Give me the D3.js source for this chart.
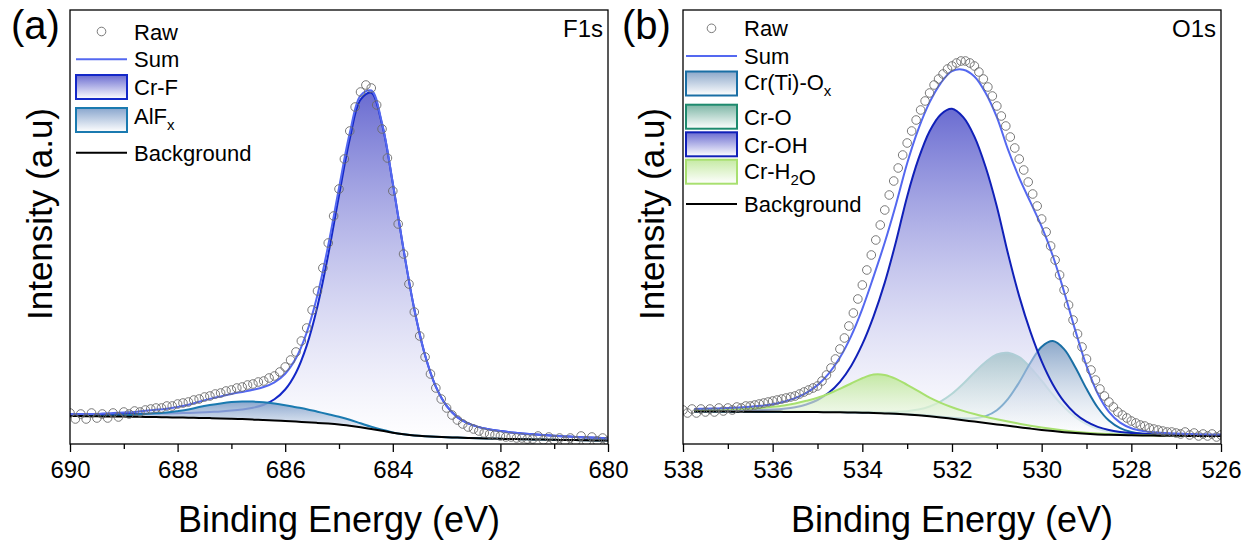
<!DOCTYPE html>
<html>
<head>
<meta charset="utf-8">
<script src="https://cdn.jsdelivr.net/npm/d3@7"></script>
<style>
  body { margin: 0; background: #fff; }
  svg text { font-family: "Liberation Sans", Arial, sans-serif; fill: #000; }
</style>
</head>
<body>
<script>
// ---------- F1s panel (a) ----------
const energyA = [690.0, 689.8, 689.6, 689.4, 689.2, 689.0, 688.8, 688.6, 688.4, 688.2,
  688.0, 687.8, 687.6, 687.4, 687.2, 687.0, 686.8, 686.6, 686.4, 686.2,
  686.0, 685.8, 685.6, 685.4, 685.2, 685.0, 684.8, 684.6, 684.4, 684.2,
  684.0, 683.8, 683.6, 683.4, 683.2, 683.0, 682.8, 682.6, 682.4, 682.2,
  682.0, 681.8, 681.6, 681.4, 681.2, 681.0, 680.8, 680.6, 680.4, 680.2, 680.0];
const bgA = [28, 27.9, 27.7, 27.6, 27.5, 27.4, 27.2, 27.1, 26.9, 26.7,
  26.5, 26.3, 26.1, 25.9, 25.6, 25.3, 24.9, 24.4, 24.0, 23.5,
  23.0, 22.4, 21.8, 21.1, 20.4, 19.5, 18.2, 16.7, 15.0, 13.2,
  11.3, 9.8, 8.6, 7.8, 7.2, 6.8, 6.4, 6.0, 5.7, 5.4,
  5.2, 5.0, 4.8, 4.6, 4.4, 4.2, 4.0, 3.9, 3.7, 3.5, 3.4];
const crF = [1.8, 2.0, 2.1, 2.3, 2.5, 2.7, 2.9, 3.2, 3.5, 3.9,
  4.3, 4.8, 5.4, 6.2, 7.0, 8.1, 9.6, 11.8, 15.2, 21.2,
  31.5, 48.9, 76.6, 116.7, 169, 228.9, 286.7, 327.7, 336.3, 306.5,
  249.4, 184.6, 126.1, 80.9, 50.1, 31.3, 20.5, 14.6, 11.2, 9.2,
  7.7, 6.6, 5.8, 5.1, 4.5, 4.0, 3.6, 3.2, 2.9, 2.7, 2.4];
const alFx = [0, 0, 0.2, 0.5, 0.9, 1.4, 2.0, 3.0, 3.8, 4.7,
  6.3, 8.2, 10.8, 13.0, 15.0, 16.6, 17.6, 18.0, 17.8, 17.0,
  15.8, 14.4, 13.0, 11.2, 9.4, 7.7, 6.0, 4.0, 2.2, 1.0,
  0.3, 0, 0, 0, 0, 0, 0, 0, 0, 0,
  0, 0, 0, 0, 0, 0, 0, 0, 0, 0, 0];

const rawEnergyA = [690.0, 689.9, 689.8, 689.7, 689.6, 689.5, 689.4, 689.3, 689.2, 689.1,
  689.0, 688.9, 688.8, 688.7, 688.6, 688.5, 688.4, 688.3, 688.2, 688.1,
  688.0, 687.9, 687.8, 687.7, 687.6, 687.5, 687.4, 687.3, 687.2, 687.1,
  687.0, 686.9, 686.8, 686.7, 686.6, 686.5, 686.4, 686.3, 686.2, 686.1,
  686.0, 685.9, 685.8, 685.7, 685.6, 685.5, 685.4, 685.3, 685.2, 685.1,
  685.0, 684.9, 684.8, 684.7, 684.6, 684.5, 684.4, 684.3, 684.2, 684.1,
  684.0, 683.9, 683.8, 683.7, 683.6, 683.5, 683.4, 683.3, 683.2, 683.1,
  683.0, 682.9, 682.8, 682.7, 682.6, 682.5, 682.4, 682.3, 682.2, 682.1,
  682.0, 681.9, 681.8, 681.7, 681.6, 681.5, 681.4, 681.3, 681.2, 681.1,
  681.0, 680.9, 680.8, 680.7, 680.6, 680.5, 680.4, 680.3, 680.2, 680.1, 680.0];
const rawA = [31, 25, 30, 25, 31, 26, 30, 26, 31, 27,
  32, 30, 33, 32, 34, 35, 36, 36, 38, 38,
  40, 41, 42, 44, 45, 47, 48, 50, 51, 53,
  54, 56, 57, 59, 60, 62, 63, 66, 68, 72,
  77, 84, 92, 103, 116, 134, 153, 176, 201, 228,
  255, 285, 313, 337, 352, 359, 356, 339, 315, 286,
  253, 220, 190, 160, 132, 108, 87, 70, 56, 45,
  36, 29, 24, 20, 17, 15, 13, 11, 10, 9,
  8, 7, 7, 6, 6, 5, 5, 8, 4, 7,
  4, 6, 3, 6, 3, 8, 3, 7, 3, 6, 3];

const ticksA = [690, 688, 686, 684, 682, 680];
const minorA = [689, 687, 685, 683, 681];

// ---------- O1s panel (b) ----------
const energyB = [537.75, 537.5, 537.25, 537.0, 536.75, 536.5, 536.25, 536.0, 535.75, 535.5,
  535.25, 535.0, 534.75, 534.5, 534.25, 534.0, 533.75, 533.5, 533.25, 533.0,
  532.75, 532.5, 532.25, 532.0, 531.75, 531.5, 531.25, 531.0, 530.75, 530.5,
  530.25, 530.0, 529.75, 529.5, 529.25, 529.0, 528.75, 528.5, 528.25, 528.0,
  527.75, 527.5, 527.25, 527.0, 526.75, 526.5, 526.25, 526.0];
const bgB = [32.4, 32.4, 32.4, 32.4, 32.3, 32.3, 32.2, 32.2, 32.1, 32.0,
  32.0, 31.9, 31.8, 31.7, 31.5, 31.3, 31.0, 30.6, 30.2, 29.6,
  28.8, 27.8, 26.6, 25.2, 23.8, 22.4, 21.0, 19.6, 18.2, 16.8,
  15.4, 14.1, 12.9, 11.8, 10.9, 10.2, 9.6, 9.2, 8.9, 8.7,
  8.5, 8.4, 8.3, 8.2, 8.1, 8.1, 8.0, 8.0];
const crTiOx = [0.08, 0.08, 0.09, 0.09, 0.1, 0.11, 0.12, 0.13, 0.14, 0.15,
  0.17, 0.18, 0.2, 0.22, 0.25, 0.28, 0.31, 0.35, 0.4, 0.46,
  0.53, 0.62, 0.77, 1.05, 1.7, 3.3, 6.9, 14.2, 26.9, 45,
  65.8, 83.1, 90, 83.1, 65.8, 45, 26.9, 14.2, 6.9, 3.3,
  1.7, 1.05, 0.77, 0.62, 0.53, 0.46, 0.4, 0.35];
const crO = [0.15, 0.16, 0.17, 0.19, 0.2, 0.22, 0.24, 0.26, 0.29, 0.32,
  0.35, 0.4, 0.45, 0.5, 0.55, 0.6, 0.9, 1.2, 1.9, 3.2,
  5.6, 9.7, 16.1, 25.1, 36.5, 49.2, 61, 70, 73, 70,
  61, 49.2, 36.5, 25.1, 16.1, 9.7, 5.6, 3.2, 1.9, 1.2,
  0.9, 0.6, 0.55, 0.5, 0.45, 0.4, 0.35, 0.32];
const crOH = [0.8, 0.87, 0.95, 1.0, 1.2, 1.4, 1.7, 2.2, 3.2, 4.8,
  7.5, 12.1, 19.4, 30.5, 46.6, 68.5, 96.7, 130.8, 172, 218,
  256, 285, 303, 310, 303, 285, 256, 218, 172, 130.8,
  96.7, 68.5, 46.6, 30.5, 19.4, 12.1, 7.5, 4.8, 3.2, 2.2,
  1.7, 1.4, 1.2, 1.0, 0.95, 0.87, 0.8, 0.74];
const crH2O = [1.5, 1.8, 2.0, 2.3, 2.7, 3.2, 3.9, 5, 6.5, 8.6,
  11.2, 14.3, 18.5, 23.5, 29, 34.5, 38.5, 38.5, 35, 29.5,
  24, 18.5, 14.5, 11.5, 9.3, 7.6, 6.2, 5.1, 4.2, 3.5,
  2.9, 2.4, 2.0, 1.7, 1.4, 1.1, 0.9, 0.7, 0.5, 0.4,
  0.3, 0.2, 0.1, 0.1, 0, 0, 0, 0];

const rawEnergyB = [538.0, 537.9, 537.8, 537.7, 537.6, 537.5, 537.4, 537.3, 537.2, 537.1,
  537.0, 536.9, 536.8, 536.7, 536.6, 536.5, 536.4, 536.3, 536.2, 536.1,
  536.0, 535.9, 535.8, 535.7, 535.6, 535.5, 535.4, 535.3, 535.2, 535.1,
  535.0, 534.9, 534.8, 534.7, 534.6, 534.5, 534.4, 534.3, 534.2, 534.1,
  534.0, 533.9, 533.8, 533.7, 533.6, 533.5, 533.4, 533.3, 533.2, 533.1,
  533.0, 532.9, 532.8, 532.7, 532.6, 532.5, 532.4, 532.3, 532.2, 532.1,
  532.0, 531.9, 531.8, 531.7, 531.6, 531.5, 531.4, 531.3, 531.2, 531.1,
  531.0, 530.9, 530.8, 530.7, 530.6, 530.5, 530.4, 530.3, 530.2, 530.1,
  530.0, 529.9, 529.8, 529.7, 529.6, 529.5, 529.4, 529.3, 529.2, 529.1,
  529.0, 528.9, 528.8, 528.7, 528.6, 528.5, 528.4, 528.3, 528.2, 528.1,
  528.0, 527.9, 527.8, 527.7, 527.6, 527.5, 527.4, 527.3, 527.2, 527.1,
  527.0, 526.9, 526.8, 526.7, 526.6, 526.5, 526.4, 526.3, 526.2, 526.1, 526.0];
const rawB = [34, 31, 35, 31, 35, 32, 35, 32, 36, 33,
  36, 34, 37, 36, 38, 38, 39, 40, 41, 42,
  43, 44, 45, 46, 47, 48, 50, 52, 54, 56,
  58, 63, 69, 76, 85, 95, 106, 118, 131, 145,
  159, 174, 189, 204, 219, 234, 249, 263, 276, 289,
  301, 313, 324, 334, 343, 351, 359, 365, 370, 375,
  378, 381, 383, 383, 381, 378, 372, 365, 357, 348,
  338, 328, 318, 307, 296, 285, 274, 262, 250, 238,
  225, 212, 198, 184, 169, 154, 139, 124, 110, 97,
  85, 74, 64, 55, 48, 42, 37, 32, 29, 26,
  23, 21, 19, 18, 16, 15, 14, 13, 12, 12,
  11, 10, 12, 9, 11, 8, 10, 8, 10, 7, 9];

const ticksB = [538, 536, 534, 532, 530, 528, 526];
const minorB = [537, 535, 533, 531, 529, 527];

// ---------- drawing ----------
const plotTop = 10, plotBottom = 444;
const svg = d3.select("body").append("svg")
  .attr("width", 1249)
  .attr("height", 543);
const defs = svg.append("defs");

function gradient(id, color, bottomOpacity) {
  const g = defs.append("linearGradient").attr("id", id)
    .attr("x1", 0).attr("y1", 0).attr("x2", 0).attr("y2", 1);
  g.append("stop").attr("offset", "0%").attr("stop-color", color).attr("stop-opacity", 0.9);
  g.append("stop").attr("offset", "100%").attr("stop-color", "#fff").attr("stop-opacity", bottomOpacity);
}

function addLabel(sel, parts) {
  parts.forEach(p => {
    if (p.sub) {
      sel.append("tspan").attr("font-size", 15).attr("dy", 6).text(p.t);
      sel.append("tspan").attr("dy", -6).text("");
    } else {
      sel.append("tspan").text(p.t);
    }
  });
}

function drawPanel(cfg) {
  const x = d3.scaleLinear().domain(cfg.domain).range([cfg.left, cfg.right]);
  const y = d3.scaleLinear().domain([0, 434]).range([plotBottom, plotTop]);
  const g = svg.append("g");

  const clipId = "clip-" + cfg.key;
  defs.append("clipPath").attr("id", clipId).append("rect")
    .attr("x", cfg.left).attr("y", plotTop)
    .attr("width", cfg.right - cfg.left).attr("height", plotBottom - plotTop);
  const plot = g.append("g").attr("clip-path", `url(#${clipId})`);

  const idx = d3.range(cfg.energy.length);
  cfg.comps.forEach(c => {
    gradient("grad-" + c.key, c.fill, 0.45);
    gradient("lgrad-" + c.key, c.fill, 0.9);
  });

  cfg.comps.forEach(c => {
    const area = d3.area()
      .x(i => x(cfg.energy[i]))
      .y0(i => y(cfg.bg[i]))
      .y1(i => y(cfg.bg[i] + c.values[i]))
      .curve(d3.curveCatmullRom);
    const line = d3.line()
      .x(i => x(cfg.energy[i]))
      .y(i => y(cfg.bg[i] + c.values[i]))
      .curve(d3.curveCatmullRom);
    plot.append("path").attr("d", area(idx)).attr("fill", `url(#grad-${c.key})`);
    plot.append("path").attr("d", line(idx))
      .attr("fill", "none").attr("stroke", c.line).attr("stroke-width", 2);
  });

  const bgLine = d3.line()
    .x(i => x(cfg.energy[i]))
    .y(i => y(cfg.bg[i]))
    .curve(d3.curveCatmullRom);
  plot.append("path").attr("d", bgLine(idx))
    .attr("fill", "none").attr("stroke", "#000").attr("stroke-width", 2);

  const sum = idx.map(i => cfg.bg[i] + d3.sum(cfg.comps, c => c.values[i]));
  const sumLine = d3.line()
    .x(i => x(cfg.energy[i]))
    .y(i => y(sum[i]))
    .curve(d3.curveCatmullRom);
  plot.append("path").attr("d", sumLine(idx))
    .attr("fill", "none").attr("stroke", "#5468f0").attr("stroke-width", 2);

  plot.append("g").selectAll("circle")
    .data(cfg.raw)
    .join("circle")
    .attr("cx", (d, i) => x(cfg.rawEnergy[i]))
    .attr("cy", d => y(d))
    .attr("r", 4.3)
    .attr("fill", "none")
    .attr("stroke", "#6b6b6b")
    .attr("stroke-width", 0.9);

  // frame
  g.append("rect")
    .attr("x", cfg.left).attr("y", plotTop)
    .attr("width", cfg.right - cfg.left).attr("height", plotBottom - plotTop)
    .attr("fill", "none").attr("stroke", "#000").attr("stroke-width", 1.3);

  // axes
  const ax = g.append("g").attr("transform", `translate(0,${plotBottom})`)
    .call(d3.axisBottom(x).tickValues(cfg.ticks).tickSize(8).tickPadding(9)
      .tickFormat(d3.format("d")));
  ax.select(".domain").remove();
  ax.selectAll("line").attr("stroke-width", 1.3);
  ax.selectAll("text").attr("font-size", 24)
    .style("font-family", '"Liberation Sans", Arial, sans-serif');
  const mx = g.append("g").attr("transform", `translate(0,${plotBottom})`)
    .call(d3.axisBottom(x).tickValues(cfg.minor).tickSize(5).tickFormat(""));
  mx.select(".domain").remove();
  mx.selectAll("line").attr("stroke-width", 1.3);

  g.append("text")
    .attr("x", (cfg.left + cfg.right) / 2).attr("y", 532)
    .attr("text-anchor", "middle").attr("font-size", 36)
    .text("Binding Energy (eV)");
  g.append("text")
    .attr("transform", `translate(${cfg.yTitleX},214) rotate(-90)`)
    .attr("text-anchor", "middle").attr("font-size", 35)
    .text("Intensity (a.u)");
  g.append("text")
    .attr("x", cfg.tagX).attr("y", 39)
    .attr("font-size", 40)
    .text(cfg.tag);
  g.append("text")
    .attr("x", cfg.right - 5).attr("y", 37)
    .attr("text-anchor", "end").attr("font-size", 24)
    .text(cfg.core);

  // legend
  const lg = g.append("g");
  const sx0 = cfg.legendX, sx1 = cfg.legendX + 51;
  cfg.legend.forEach(item => {
    if (item.type === "circle") {
      lg.append("circle").attr("cx", (sx0 + sx1) / 2).attr("cy", item.y).attr("r", 4.3)
        .attr("fill", "none").attr("stroke", "#6b6b6b").attr("stroke-width", 0.9);
    } else if (item.type === "line") {
      lg.append("line").attr("x1", sx0).attr("x2", sx1)
        .attr("y1", item.y).attr("y2", item.y)
        .attr("stroke", item.color).attr("stroke-width", 2);
    } else {
      const c = cfg.comps.find(d => d.key === item.key);
      lg.append("rect").attr("x", sx0).attr("y", item.y - 12)
        .attr("width", sx1 - sx0).attr("height", 24)
        .attr("fill", `url(#lgrad-${c.key})`)
        .attr("stroke", c.legendLine || c.line).attr("stroke-width", 2);
    }
    const t = lg.append("text").attr("x", sx1 + 7).attr("y", item.ty + 8)
      .attr("font-size", 22);
    addLabel(t, item.label);
  });
}

drawPanel({
  key: "a", left: 70, right: 608, domain: [690, 680],
  energy: energyA, bg: bgA,
  comps: [
    { key: "crf", values: crF, line: "#1428c8", fill: "#5a5ccc" },
    { key: "alf", values: alFx, line: "#1a7ab0", fill: "#7c9cc8" }
  ],
  rawEnergy: rawEnergyA, raw: rawA,
  ticks: ticksA, minor: minorA,
  tag: "(a)", tagX: 11, core: "F1s", yTitleX: 52, legendX: 76,
  legend: [
    { type: "circle", y: 31.5, ty: 31.5, label: [{ t: "Raw" }] },
    { type: "line", y: 59.3, ty: 59.3, color: "#5468f0", label: [{ t: "Sum" }] },
    { type: "box", key: "crf", y: 87, ty: 87, label: [{ t: "Cr-F" }] },
    { type: "box", key: "alf", y: 120, ty: 116, label: [{ t: "AlF" }, { t: "x", sub: true }] },
    { type: "line", y: 152.7, ty: 152.7, color: "#000", label: [{ t: "Background" }] }
  ]
});

drawPanel({
  key: "b", left: 683, right: 1221, domain: [538, 526],
  energy: energyB, bg: bgB,
  comps: [
    { key: "cro", values: crO, line: "#7cc2b2", legendLine: "#1e8a6e", fill: "#6fae9c" },
    { key: "crti", values: crTiOx, line: "#1a6fa5", fill: "#7f9ec4" },
    { key: "croh", values: crOH, line: "#1020b8", fill: "#5a5ccc" },
    { key: "crh2o", values: crH2O, line: "#a8e070", fill: "#bfe89a" }
  ],
  rawEnergy: rawEnergyB, raw: rawB,
  ticks: ticksB, minor: minorB,
  tag: "(b)", tagX: 622, core: "O1s", yTitleX: 664, legendX: 686,
  legend: [
    { type: "circle", y: 28.3, ty: 28.3, label: [{ t: "Raw" }] },
    { type: "line", y: 56, ty: 56, color: "#5468f0", label: [{ t: "Sum" }] },
    { type: "box", key: "crti", y: 83.5, ty: 82, label: [{ t: "Cr(Ti)-O" }, { t: "x", sub: true }] },
    { type: "box", key: "cro", y: 116.7, ty: 116.7, label: [{ t: "Cr-O" }] },
    { type: "box", key: "croh", y: 144.3, ty: 145, label: [{ t: "Cr-OH" }] },
    { type: "box", key: "crh2o", y: 171.7, ty: 171, label: [{ t: "Cr-H" }, { t: "2", sub: true }, { t: "O" }] },
    { type: "line", y: 204, ty: 204, color: "#000", label: [{ t: "Background" }] }
  ]
});
</script>
</body>
</html>
